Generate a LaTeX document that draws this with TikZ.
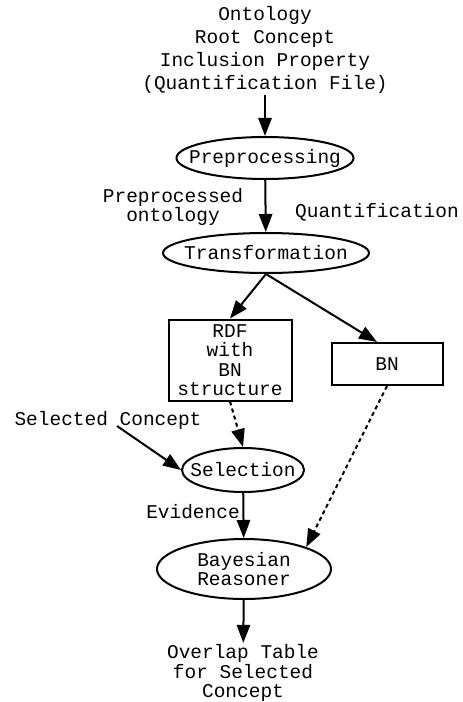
\documentclass[tikz,border=0pt]{standalone}
\usepackage{fontspec}
\setmainfont{Liberation Mono}
\usetikzlibrary{shapes.geometric,arrows.meta}

\tikzset{proc/.style={ellipse,draw,line width=1.5pt,inner xsep=-10pt,inner ysep=0pt},
         datbox/.style={rectangle,draw,line width=1.5pt,align=center,inner sep=0pt},
         lbl/.style={align=center,inner sep=1pt},
         flow/.style={-{Triangle[length=13.5pt,width=10pt]},line width=1.5pt},
         dotflow/.style={flow,dash pattern=on 3pt off 2.5pt}}

\begin{document}
\begin{tikzpicture}[x=0.75pt,y=-0.75pt,font=\fontsize{14.6}{14.6}\selectfont]
        \useasboundingbox (0,0) rectangle (462,702);
        \node[lbl,font=\fontsize{14.6}{17.25}\selectfont] (input) at (265,50) {Ontology\\Root Concept\\Inclusion Property\\(Quantification File)};
        \node[proc,minimum width=132pt,minimum height=31.5pt] (prep) at (265,158) {Preprocessing};
        \node[proc,minimum width=154.5pt,minimum height=30pt] (trans) at (266,253) {Transformation};
        \node[datbox,minimum width=92.25pt,minimum height=60.75pt] (rdf) at (230,360) {RDF\\with\\BN\\structure};
        \node[datbox,minimum width=83.25pt,minimum height=31.5pt] (bn) at (387,364) {BN};
        \node[proc,minimum width=91.5pt,minimum height=33pt] (sel) at (243,470) {Selection};
        \node[proc,align=center,minimum width=130.5pt,minimum height=45pt] (bayes) at (244,569) {Bayesian\\Reasoner};
        \node[lbl] (prepout) at (173,207) {Preprocessed\\ontology};
        \node[lbl] (quant) at (377,212) {Quantification};
        \node[lbl] (selconc) at (108,420) {Selected Concept};
        \node[lbl] (evid) at (193,512) {Evidence};
        \node[lbl] (table) at (243,673) {Overlap Table\\for Selected\\Concept};
        \coordinate (selstart) at (117,426);
        \draw[flow] (input) -- (prep);
        \draw[flow] (prep) -- (trans);
        \draw[flow] (trans.south) -- (rdf.north);
        \draw[flow] (trans.south) -- ([xshift=-7.5pt]bn.north);
        \draw[dotflow] (rdf.south) -- (sel.north);
        \draw[flow] (selstart) -- (sel.west);
        \draw[flow] (sel) -- (bayes);
        \draw[dotflow] (bn.south) -- (bayes.north east);
        \draw[flow] (bayes) -- (table);
    \end{tikzpicture}
\end{document}
